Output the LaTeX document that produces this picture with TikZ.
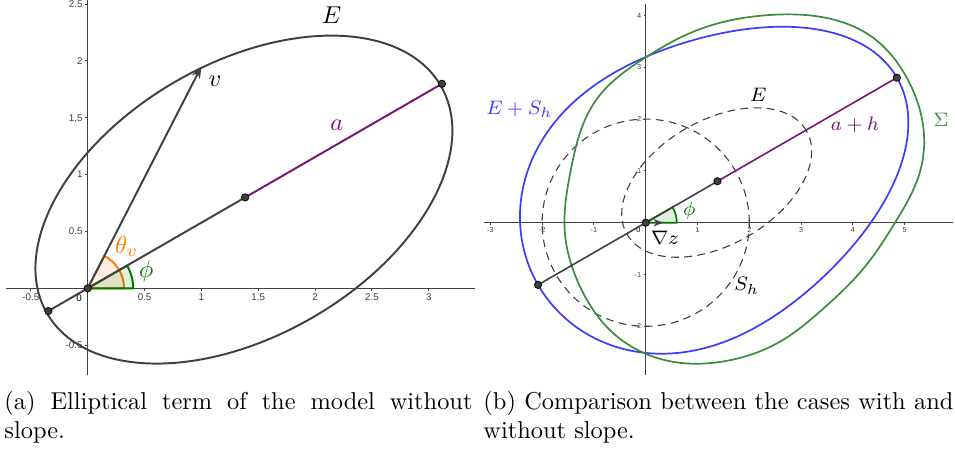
\documentclass[tikz,border=0pt]{standalone}
\usepackage{fontspec}
\newfontfamily\ticksf{Liberation Sans}
\usetikzlibrary{arrows.meta,hobby}

\definecolor{ggray}{RGB}{64,64,64}
\definecolor{gpurple}{RGB}{120,20,120}
\definecolor{gorange}{RGB}{255,124,0}
\definecolor{ggreen}{RGB}{0,120,0}
\definecolor{gsigma}{RGB}{60,140,60}
\definecolor{gblue}{RGB}{60,60,255}

\tikzset{
  axis/.style={black!75, line width=0.4pt},
  curve/.style={ggray, line width=0.8pt},
  thincurve/.style={ggray, line width=0.65pt},
  dashline/.style={ggray, line width=0.45pt, dash pattern=on 3.2pt off 2.2pt},
  pt/.style={circle, fill=ggray, draw=black, line width=0.3pt, inner sep=0pt, minimum size=3pt},
  ticka/.style={font=\ticksf\fontsize{4}{4}\selectfont, inner sep=1pt},
  tickb/.style={font=\ticksf\fontsize{3}{3}\selectfont, inner sep=0.8pt},
  captext/.style={anchor=base west, inner sep=0pt, font=\fontsize{10}{12}\selectfont},
}

\begin{document}
\begin{tikzpicture}[x=0.41pt, y=0.41pt,
  declare function={rE(\t)=(0.8*cos(\t-30)+1)/(0.5*(cos(\t-30))^2+(sin(\t-30))^2/0.72);}]
\useasboundingbox (0,0) rectangle (955,453);

% ---------- (a) elliptical term without slope
\begin{scope}[shift={(87.7,164.7)}, scale=113.7]
% axes
\draw[axis] (-0.72,0) -- (3.41,0);
\draw[axis] (0,-0.76) -- (0,2.54);
\foreach \x in {-0.5,0.5,1,1.5,2,2.5,3}
  \draw[axis] (\x,0) -- (\x,-0.02) node[ticka, below] {\x};
\foreach \y in {-0.5,0.5,1,1.5,2,2.5}
  \draw[axis] (0,\y) -- (-0.02,\y) node[ticka, left] {\y};
\node[ticka] (za) at (-0.075,-0.085) {0};

\coordinate (Oa) at (0,0);
\coordinate (Ca) at (30:1.6);
\coordinate (Ra) at (30:3.6);
\coordinate (La) at (210:0.4);
\coordinate (Va) at (62.86:2.1956);

% angles
\filldraw[draw=gorange, fill=gorange, fill opacity=0.12, line width=0.8pt]
  (Oa) -- (0.32,0) arc[start angle=0, end angle=62.86, radius=0.32] -- cycle;
\filldraw[draw=ggreen, fill=ggreen, fill opacity=0.12, line width=0.8pt]
  (Oa) -- (0.4,0) arc[start angle=0, end angle=30, radius=0.4] -- cycle;

% ellipse E
\draw[curve, rotate around={30:(Ca)}] (Ca) ellipse [x radius=2, y radius=1.2];

% major axis and v
\draw[curve] (La) -- (Ca);
\draw[curve, gpurple] (Ca) -- (Ra);
\draw[curve, -{Stealth[length=5pt, width=3.6pt]}] (Oa) -- (Va);

\node[pt] (dOa) at (Oa) {};
\node[pt] (dCa) at (Ca) {};
\node[pt] (dRa) at (Ra) {};
\node[pt] (dLa) at (La) {};

% labels
\node (lEa) at (2.146,2.404) {$E$};
\node (lva) at (1.12,1.817) {$v$};
\node[text=gpurple] (laa) at (2.19,1.436) {$a$};
\node[text=gorange] (ltheta) at (0.343,0.366) {$\theta_v$};
\node[text=ggreen] (lphia) at (0.513,0.146) {$\phi$};
\end{scope}

% ---------- (b) with and without slope
\begin{scope}[shift={(645.7,230.3)}, scale=51.8]
% axes
\draw[axis] (-3.12,0) -- (5.94,0);
\draw[axis] (0,-2.94) -- (0,4.22);
\foreach \x in {-3,-2,-1,1,2,3,4,5}
  \draw[axis] (\x,0) -- (\x,-0.04) node[tickb, below] {\x};
\foreach \y in {-2,-1,1,2,3,4}
  \draw[axis] (0,\y) -- (-0.04,\y) node[tickb, left] {\y};
\node[tickb] (zb) at (-0.14,-0.14) {0};

\coordinate (Ob) at (0,0);
\coordinate (Cb) at (30:1.6);
\coordinate (Rb) at (30:5.6);
\coordinate (Lb) at (210:2.4);
\coordinate (Gb) at (0.34,0);

% E and S_h
\draw[dashline] (Ob) circle [radius=2];
\draw[dashline, rotate around={30:(Cb)}] (Cb) ellipse [x radius=2, y radius=1.2];

% E + S_h
\draw[gblue, line width=0.7pt] plot[smooth cycle, domain=0:357.5, samples=144, variable=\t]
  ({(rE(\t)+2)*cos(\t)}, {(rE(\t)+2)*sin(\t)});

% Sigma
\draw[gsigma, line width=0.7pt, use Hobby shortcut, closed=true]
  (4.813,0) .. (5.30,1.0) .. (5.365,1.80) .. (5.04,2.80) .. (4.363,3.591)
  .. (3.40,3.97) .. (2.40,4.01) .. (0.919,3.687) .. (0,3.192) .. (-0.95,2.38)
  .. (-1.45,1.0) .. (-1.56,-0.2) .. (-1.268,-1.235) .. (-0.625,-2.135)
  .. (0.4,-2.66) .. (1.6,-2.66) .. (2.593,-2.297) .. (3.398,-1.685)
  .. (4.234,-0.849);

% angle phi
\filldraw[draw=ggreen, fill=ggreen, fill opacity=0.12, line width=0.7pt]
  (Ob) -- (0.6,0) arc[start angle=0, end angle=30, radius=0.6] -- cycle;

% major axis and gradient
\draw[thincurve] (Lb) -- (Cb);
\draw[thincurve, gpurple] (Cb) -- (Rb);
\draw[thincurve, -{Stealth[length=4pt, width=3pt]}] (Ob) -- (Gb);

\node[pt] (dOb) at (Ob) {};
\node[pt] (dCb) at (Cb) {};
\node[pt] (dRb) at (Rb) {};
\node[pt] (dLb) at (Lb) {};

% labels
\node[font=\footnotesize, text=gblue] (lES) at (-2.44,2.19) {$E+S_h$};
\node[font=\footnotesize] (lEb) at (2.174,2.465) {$E$};
\node[font=\footnotesize, text=gpurple] (lah) at (4.041,1.886) {$a+h$};
\node[font=\footnotesize, text=gsigma] (lSigma) at (5.701,1.983) {$\Sigma$};
\node[font=\footnotesize] (lSh) at (1.95,-1.222) {$S_h$};
\node[font=\footnotesize] (lgrad) at (0.373,-0.301) {$\nabla z$};
\node[font=\footnotesize, text=ggreen] (lphib) at (0.842,0.232) {$\phi$};
\end{scope}

% ---------- captions
\node[captext] (capa1) at (4,44) {\makebox[191.9pt][s]{(a) Elliptical term of the model without}};
\node[captext] (capa2) at (4,15) {slope.};
\node[captext] (capb1) at (483,44) {\makebox[192.7pt][s]{(b) Comparison between the cases with and}};
\node[captext] (capb2) at (483,15) {without slope.};
\end{tikzpicture}
\end{document}
